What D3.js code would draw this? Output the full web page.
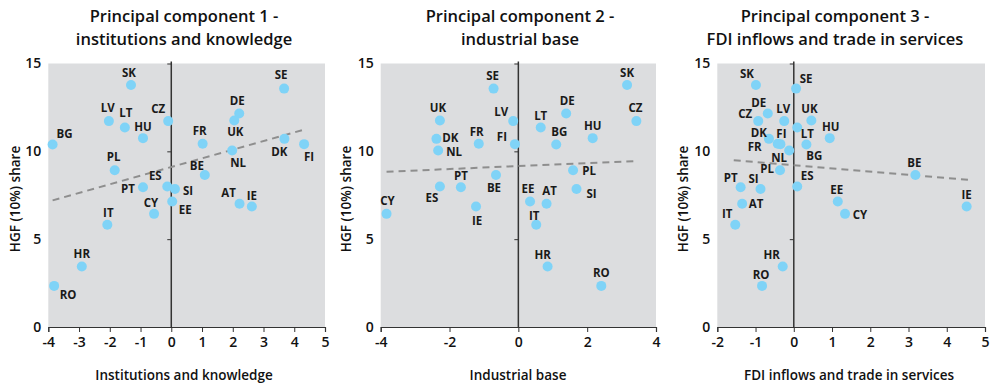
<!DOCTYPE html>
<html><head><meta charset="utf-8">
<script src="https://cdn.jsdelivr.net/npm/d3@7"></script>
<style>
body{margin:0;background:#fff;}
svg{display:block;font-family:"Open Sans","Noto Sans",sans-serif;}
</style></head><body>
<svg id="chart" width="993" height="384"></svg>
<script>
// ---- data ----
const countries = ["SK","SE","DE","UK","LV","CZ","LT","HU","DK","FI","FR","BG","NL","PL","BE","ES","PT","SI","EE","AT","IE","CY","IT","HR","RO"];
const hgfShare  = [13.78,13.57,12.15,11.76,11.72,11.72,11.36,10.75,10.71,10.41,10.43,10.39,10.05,8.92,8.65,8.0,7.96,7.86,7.14,7.02,6.86,6.44,5.82,3.44,2.34];
const pc1Scores = [-1.31,3.67,2.21,2.05,-2.03,-0.10,-1.51,-0.92,3.68,4.32,1.02,-3.86,1.98,-1.84,1.09,-0.13,-0.92,0.12,0.03,2.22,2.62,-0.56,-2.08,-2.91,-3.81];
const pc2Scores = [3.16,-0.72,1.39,-2.28,-0.15,3.43,0.65,2.16,-2.38,-0.10,-1.15,1.10,-2.33,1.59,-0.65,-2.28,-1.67,1.69,0.34,0.82,-1.23,-3.83,0.52,0.85,2.41];
const pc3Scores = [-0.99,0.06,-0.68,0.46,-0.25,-0.93,0.09,0.94,-0.65,-0.35,-0.42,0.33,-0.12,-0.36,3.18,0.09,-1.39,-0.87,1.15,-1.35,4.52,1.34,-1.53,-0.29,-0.83];
// trend lines: [x0, y0, x1, y1]
const trend1 = [-3.86,7.21,4.33,11.24];
const trend2 = [-3.83,8.84,3.47,9.45];
const trend3 = [-1.57,9.49,4.58,8.38];
const titles1 = ["Principal component 1 -","institutions and knowledge"];
const titles2 = ["Principal component 2 -","industrial base"];
const titles3 = ["Principal component 3 -","FDI inflows and trade in services"];
const xTitles = ["Institutions and knowledge","Industrial base","FDI inflows and trade in services"];
const yTitle = "HGF (10%) share";
const yTicks = [0,5,10,15];
const xTicks1 = [-4,-3,-2,-1,0,1,2,3,4,5];
const xTicks2 = [-4,-2,0,2,4];
const xTicks3 = [-2,-1,0,1,2,3,4,5];

// ---- label offsets (layout) ----
const off1 = {SK:[-2,-12],SE:[-3,-14],DE:[-2,-13],UK:[1,12],NL:[6,13],DK:[-5,13],FI:[5,13],LV:[-1,-13],LT:[1,-14],HU:[0,-11],CZ:[-10,-12],BG:[12,-11],FR:[-3,-13],PL:[-1,-13],BE:[-8,-9],ES:[-12,-10],SI:[13,2],PT:[-15,2],EE:[13,8],CY:[-3,-11],AT:[-11,-11],IE:[0,-11],IT:[1,-12],HR:[0,-13],RO:[14,9]};
const off2 = {SE:[-1,-13],SK:[0,-12],UK:[-2,-12],LV:[-12,-9],DE:[1,-13],CZ:[-1,-13],LT:[0,-11],DK:[14,-1],HU:[0,-12],NL:[16,2],FR:[-2,-12],FI:[-13,-7],BG:[3,-13],PL:[16,1],BE:[-2,13],ES:[-8,12],PT:[0,-11],SI:[15,5],EE:[-2,-13],AT:[3,-13],IE:[1,14],CY:[1,-13],IT:[-2,-9],HR:[-5,-12],RO:[0,-13]};
const off3 = {SK:[-9,-11],SE:[10,-10],DE:[-9,-11],CZ:[-13,-7],LV:[-1,-12],UK:[-2,-11],DK:[-10,-6],FI:[1,-10],FR:[-23,3],LT:[10,7],BG:[8,11],HU:[1,-11],NL:[-10,8],PL:[-13,-1],ES:[10,-10],PT:[-10,-9],SI:[-7,-10],AT:[14,0],IT:[-8,-11],BE:[-1,-12],EE:[-1,-12],CY:[15,1],IE:[0,-12],HR:[-11,-12],RO:[-1,-11]};

const panels = [
  {scores:pc1Scores, trend:trend1, title:titles1, xTitle:xTitles[0], xDomain:[-4,5], xTicks:xTicks1, x0:48.3, x1:325, titleX:184, xTitleX:184, yTitleX:15, off:off1},
  {scores:pc2Scores, trend:trend2, title:titles2, xTitle:xTitles[1], xDomain:[-4,4], xTicks:xTicks2, x0:380.7, x1:656, titleX:520, xTitleX:518, yTitleX:346, off:off2},
  {scores:pc3Scores, trend:trend3, title:titles3, xTitle:xTitles[2], xDomain:[-2,5], xTicks:xTicks3, x0:717.3, x1:985, titleX:835, xTitleX:849, yTitleX:683, off:off3}
];

const svg = d3.select("#chart");
const yTop = 63.5, yBot = 327;
const y = d3.scaleLinear().domain([0,15]).range([yBot,yTop]);

panels.forEach(p => {
  const x = d3.scaleLinear().domain(p.xDomain).range([p.x0,p.x1]);
  const g = svg.append("g");
  g.append("rect").attr("x",p.x0).attr("y",yTop).attr("width",p.x1-p.x0).attr("height",yBot-yTop).attr("fill","#dcdddf");

  // titles
  g.append("text").attr("x",p.titleX).attr("y",22).attr("text-anchor","middle")
    .attr("font-size",16.5).attr("font-weight",600).attr("fill","#111").text(p.title[0]);
  g.append("text").attr("x",p.titleX).attr("y",45).attr("text-anchor","middle")
    .attr("font-size",16.5).attr("font-weight",600).attr("fill","#111").text(p.title[1]);

  // x axis
  const xa = g.append("g").attr("transform",`translate(0,${yBot})`)
    .call(d3.axisBottom(x).tickValues(p.xTicks).tickSize(5).tickPadding(5).tickFormat(d => d));
  xa.select(".domain").attr("stroke","#333").attr("stroke-width",1.2);
  xa.selectAll(".tick line").attr("stroke","#333");
  xa.selectAll("text").attr("font-size",14).attr("font-weight",600).attr("fill","#111").attr("font-family","'Open Sans',sans-serif");

  // y axis at x=0
  const ya = g.append("g").attr("transform",`translate(${x(0)},0)`)
    .call(d3.axisLeft(y).tickValues(yTicks).tickSize(4).tickFormat(""));
  ya.select(".domain").attr("stroke","#333").attr("stroke-width",1.5).attr("d",`M0,${yBot}V${yTop-2}`);
  ya.selectAll(".tick line").attr("stroke","#333");
  // y tick labels at plot left
  g.selectAll(".ylab").data(yTicks).join("text")
    .attr("x",p.x0-7).attr("y",d=>y(d)).attr("dy","0.35em").attr("text-anchor","end")
    .attr("font-size",14).attr("font-weight",600).attr("fill","#111").text(d=>d);

  // axis titles
  g.append("text").attr("x",p.xTitleX).attr("y",380).attr("text-anchor","middle")
    .attr("font-size",13.5).attr("font-weight",600).attr("fill","#111").text(p.xTitle);
  g.append("text").attr("transform",`translate(${p.yTitleX+5},199) rotate(-90)`).attr("text-anchor","middle")
    .attr("font-size",13.5).attr("font-weight",600).attr("fill","#111").text(yTitle);

  // trend line
  g.append("line").attr("x1",x(p.trend[0])).attr("y1",y(p.trend[1])).attr("x2",x(p.trend[2])).attr("y2",y(p.trend[3]))
    .attr("stroke","#8e8e8e").attr("stroke-width",2).attr("stroke-dasharray","7,5");

  const data = countries.map((c,i)=>({c, x:p.scores[i], y:hgfShare[i]}));
  g.selectAll(".pt").data(data).join("circle")
    .attr("cx",d=>x(d.x)).attr("cy",d=>y(d.y)).attr("r",5).attr("fill","#7fd3f7");
  g.selectAll(".lb").data(data).join("text")
    .attr("x",d=>x(d.x)+p.off[d.c][0]).attr("y",d=>y(d.y)+p.off[d.c][1]).attr("dy","0.35em")
    .attr("text-anchor","middle").attr("font-size",11.5).attr("font-weight",700).attr("fill","#1a1a1a").text(d=>d.c);
});
</script>
</body></html>
